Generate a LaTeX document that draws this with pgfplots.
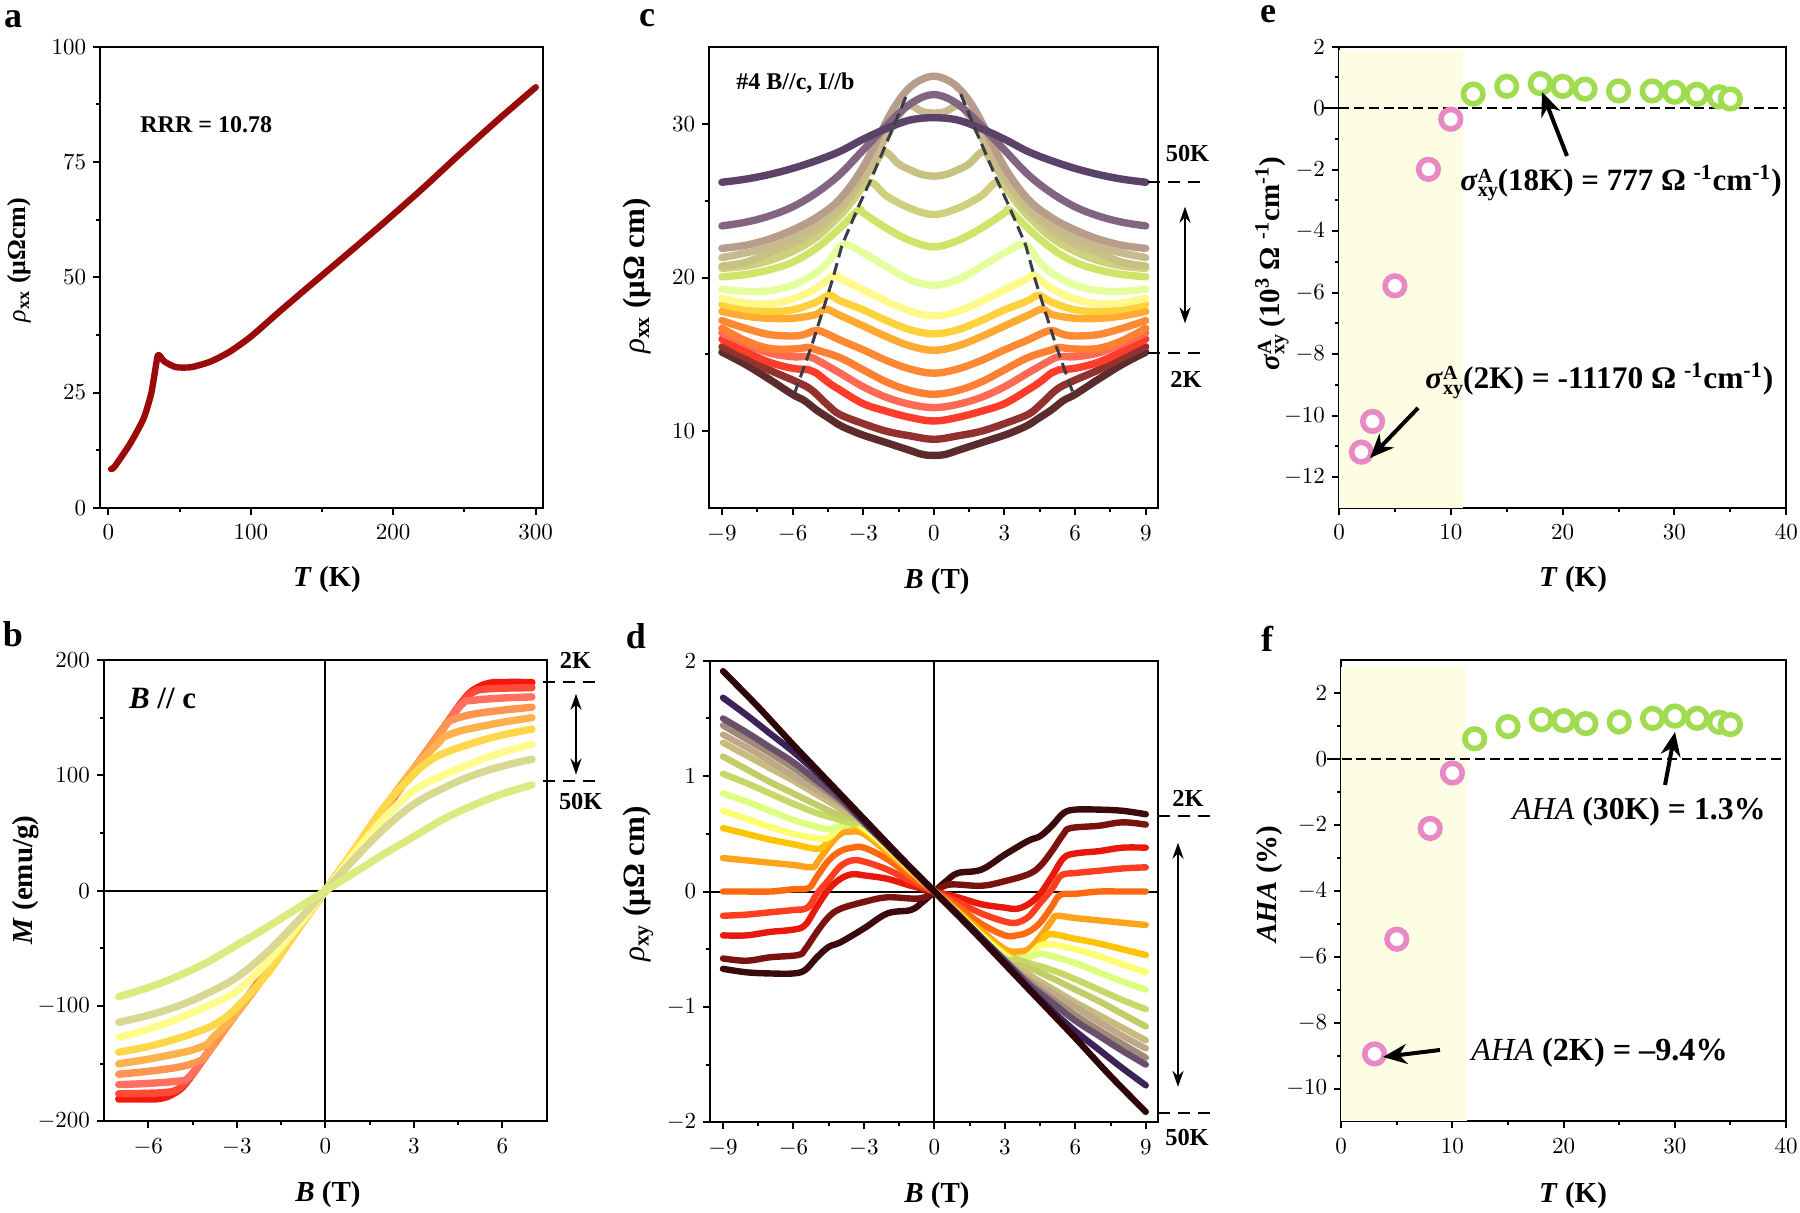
\RequirePackage{fix-cm}
\documentclass[border=0pt]{standalone}
\usepackage[no-math]{fontspec}
\setmainfont{Liberation Serif}
\usepackage{pgfplots}
\pgfplotsset{compat=1.18}
\usetikzlibrary{arrows.meta}

% panel b
\definecolor{bA}{HTML}{F5160C}\definecolor{bB}{HTML}{FF4A35}\definecolor{bC}{HTML}{FF7060}
\definecolor{bD}{HTML}{FF9550}\definecolor{bE}{HTML}{FFB14D}\definecolor{bF}{HTML}{FFD84A}
\definecolor{bG}{HTML}{FFFB8C}\definecolor{bH}{HTML}{D9D892}\definecolor{bI}{HTML}{DCEA80}
% panel c
\definecolor{cA}{HTML}{5C2B2C}\definecolor{cB}{HTML}{93312F}\definecolor{cC}{HTML}{FF3B2A}
\definecolor{cD}{HTML}{FF6A55}\definecolor{cE}{HTML}{FF7F33}\definecolor{cF}{HTML}{FF8A33}
\definecolor{cG}{HTML}{FFAA33}\definecolor{cH}{HTML}{FFD23C}\definecolor{cI}{HTML}{FFF88A}
\definecolor{cJ}{HTML}{E6FF9E}\definecolor{cK}{HTML}{CFE56A}\definecolor{cL}{HTML}{CFCF7E}
\definecolor{cM}{HTML}{C8C184}\definecolor{cN}{HTML}{C9B98E}\definecolor{cO}{HTML}{B79D8A}
\definecolor{cP}{HTML}{826580}\definecolor{cQ}{HTML}{5C4168}
% panel d
\definecolor{dA}{HTML}{3A0A0C}\definecolor{dB}{HTML}{7A1210}\definecolor{dC}{HTML}{E8190C}
\definecolor{dD}{HTML}{FF3D20}\definecolor{dE}{HTML}{FF6A10}\definecolor{dF}{HTML}{FFA31A}
\definecolor{dG}{HTML}{FFC400}\definecolor{dH}{HTML}{FBFF70}\definecolor{dI}{HTML}{DCFF80}
\definecolor{dJ}{HTML}{C6D865}\definecolor{dK}{HTML}{C4CC6A}\definecolor{dL}{HTML}{C9BB7C}
\definecolor{dM}{HTML}{BFA88A}\definecolor{dN}{HTML}{A08A78}\definecolor{dO}{HTML}{6A4F6A}
\definecolor{dP}{HTML}{3B2358}\definecolor{dQ}{HTML}{2E0508}
\definecolor{ringP}{HTML}{E888C4}\definecolor{ringG}{HTML}{A0DC50}\definecolor{shade}{HTML}{FDFDE4}
\definecolor{guide}{HTML}{3A3D45}\definecolor{rho}{HTML}{9A0A08}

\pgfplotsset{
  panel/.style={scale only axis, anchor=south west, clip=false,
    axis line style={line width=1pt}, tick style={black, line width=1pt},
    tick align=outside, tick pos=left, major tick length=3.5pt, minor tick length=2pt,
    minor tick num=1, scaled ticks=false,
    tick label style={font=\fontsize{11.5}{13}\selectfont},
    xticklabel style={yshift=-1.5pt}},
  curve/.style={no markers, line width=3.7pt, line cap=round, line join=round, smooth, tension=0.6},
  thin curve/.style={curve, line width=3.2pt},
  ring/.style={only marks, mark=*, mark size=4.9pt, mark options={fill=white, draw=#1, line width=2.8pt}},
  zero/.style={black, line width=1pt, forget plot},
}
\newcommand\bfs[1]{\fontsize{#1}{#1}\selectfont\bfseries}
\newcommand\sxy{\textit{σ}\rlap{\raisebox{.6ex}{\fontsize{10}{10}\selectfont A}}\raisebox{-.4ex}{\fontsize{10}{10}\selectfont xy}}

\begin{document}
\begin{tikzpicture}
\path[use as bounding box] (0,0) rectangle (900pt,606.5pt);

% a
\begin{axis}[panel, at={(50.15pt,352.6pt)}, width=221.55pt, height=230.55pt,
  xmin=-5.6, xmax=305.4, ymin=0, ymax=100, xtick={0,100,200,300}, ytick={0,25,50,75,100}]
\addplot[curve, color=rho, line width=3.2pt, tension=0.4] coordinates {
 (2,8.4)(4.6,9)(15.3,13.9)(24.7,19.3)(30,24.6)(32.8,29.6)(34.6,32.9)(36,33)(39.5,31.7)(47.5,30.5)
 (58.3,30.5)(71.7,31.7)(85,33.8)(100,37.1)(120,42.5)(138.9,47.5)(165.7,54.5)(192.6,61.6)(219.4,68.9)
 (246,76.5)(273,84)(300,91.2)};
\end{axis}

% b
\begin{axis}[panel, at={(52pt,45.75pt)}, width=221.35pt, height=230.75pt,
  xmin=-7.5, xmax=7.5, ymin=-200, ymax=200, xtick={-6,-3,0,3,6}, ytick={-200,-100,0,100,200}]
\addplot[zero] coordinates {(-7.5,0)(7.5,0)};
\addplot[zero] coordinates {(0,-200)(0,200)};
\addplot[curve,color=bA] coordinates {(-7,-180.5)(-6,-180.5)(-5.6,-180)(-5.2,-176.5)(-4.77,-168)(-4,-141)(-3,-105)(-2,-70)(-1,-35)(0,0)(1,35)(2,70)(3,105)(4,141)(4.77,168)(5.2,176.5)(5.6,180)(6,180.5)(7,180.5)};
\addplot[curve,color=bB] coordinates {(-7,-176)(-5.5,-175)(-5,-172)(-4.6,-162)(-4,-141)(-3,-105)(-2,-70)(-1,-35)(0,0)(1,35)(2,70)(3,105)(4,141)(4.6,162)(5,172)(5.5,175)(7,176)};
\addplot[curve,color=bC] coordinates {(-7,-168)(-6,-167)(-5,-165)(-4.64,-162)(-4,-141)(-3,-105)(-2,-70)(-1,-35)(0,0)(1,35)(2,70)(3,105)(4,141)(4.64,162)(5,165)(6,167)(7,168)};
\addplot[curve,color=bD] coordinates {(-7,-159)(-6,-156.5)(-5,-153)(-4.3,-148)(-4,-141)(-3,-106)(-2,-71)(-1,-35.5)(0,0)(1,35.5)(2,71)(3,106)(4,141)(4.3,148)(5,153)(6,156.5)(7,159)};
\addplot[curve,color=bE] coordinates {(-7,-150)(-6,-146)(-5,-141)(-4.5,-138)(-4,-133)(-3.83,-128)(-3,-106)(-2,-72)(-1,-36)(0,0)(1,36)(2,72)(3,106)(3.83,128)(4,133)(4.5,138)(5,141)(6,146)(7,150)};
\addplot[curve,color=bF] coordinates {(-7,-140)(-6,-135)(-5,-128)(-4,-119)(-3.5,-112)(-3.03,-101.7)(-2,-73)(-1,-36.5)(0,0)(1,36.5)(2,73)(3.03,101.7)(3.5,112)(4,119)(5,128)(6,135)(7,140)};
\addplot[curve,color=bG] coordinates {(-7,-127)(-6,-120)(-5,-111)(-4,-100)(-3,-87)(-2,-63)(-1,-33)(0,0)(1,33)(2,63)(3,87)(4,100)(5,111)(6,120)(7,127)};
\addplot[curve,color=bH] coordinates {(-7,-114)(-6,-108)(-5,-100)(-4,-89)(-3,-75)(-2,-54)(-1,-28)(0,0)(1,28)(2,54)(3,75)(4,89)(5,100)(6,108)(7,114)};
\addplot[curve,color=bI] coordinates {(-7,-91.7)(-6,-84)(-5,-74)(-4,-62)(-3,-47)(-2,-32)(-1,-16)(0,0)(1,16)(2,32)(3,47)(4,62)(5,74)(6,84)(7,91.7)};
\end{axis}

% c
\begin{axis}[panel, at={(354.6pt,352.4pt)}, width=224.4pt, height=230.6pt,
  xmin=-9.54, xmax=9.52, ymin=5, ymax=35, xtick={-9,-6,-3,0,3,6,9}, ytick={10,20,30}]
\addplot[curve,color=cA] coordinates {(-9,15.15)(-8,14.35)(-7,13.4)(-6,12.4)(-5.5,12)(-5,11.4)(-4.5,10.9)(-4,10.4)(-3.5,10.05)(-3,9.75)(-2,9.25)(-1,8.75)(-.5,8.5)(0,8.43)(.5,8.5)(1,8.75)(2,9.25)(3,9.75)(3.5,10.05)(4,10.4)(4.5,10.9)(5,11.4)(5.5,12)(6,12.4)(7,13.4)(8,14.35)(9,15.15)};
\addplot[curve,color=cB] coordinates {(-9,15.5)(-8,14.8)(-7,14)(-5.8,13.2)(-5.2,12.7)(-4.5,11.7)(-4,11.1)(-3,10.5)(-2,10)(-1,9.7)(0,9.48)(1,9.7)(2,10)(3,10.5)(4,11.1)(4.5,11.7)(5.2,12.7)(5.8,13.2)(7,14)(8,14.8)(9,15.5)};
\addplot[curve,color=cC] coordinates {(-9,16)(-8,15.2)(-7,14.5)(-6,14.1)(-5.3,14)(-5,13.8)(-4.5,13.2)(-4,12.7)(-3,11.8)(-2,11.3)(-1,10.9)(0,10.67)(1,10.9)(2,11.3)(3,11.8)(4,12.7)(4.5,13.2)(5,13.8)(5.3,14)(6,14.1)(7,14.5)(8,15.2)(9,16)};
\addplot[curve,color=cD] coordinates {(-9,16.4)(-8,15.7)(-7,15.1)(-6,14.85)(-5.3,14.85)(-4.8,14.5)(-4,13.8)(-3,12.9)(-2,12.2)(-1,11.75)(0,11.54)(1,11.75)(2,12.2)(3,12.9)(4,13.8)(4.8,14.5)(5.3,14.85)(6,14.85)(7,15.1)(8,15.7)(9,16.4)};
\addplot[curve,color=cE] coordinates {(-9,16.7)(-8,15.9)(-7,15.4)(-6,15.35)(-5.3,15.45)(-5,15.3)(-4,14.8)(-3,14)(-2,13.2)(-1,12.65)(0,12.41)(1,12.65)(2,13.2)(3,14)(4,14.8)(5,15.3)(5.3,15.45)(6,15.35)(7,15.4)(8,15.9)(9,16.7)};
\addplot[curve,color=cF] coordinates {(-9,17.2)(-8,16.7)(-7,16.3)(-6,16.2)(-5.5,16.3)(-5.05,16.55)(-4.7,16.45)(-4,15.95)(-3,15.3)(-2,14.6)(-1,14.05)(0,13.78)(1,14.05)(2,14.6)(3,15.3)(4,15.95)(4.7,16.45)(5.05,16.55)(5.5,16.3)(6,16.2)(7,16.3)(8,16.7)(9,17.2)};
\addplot[curve,color=cG] coordinates {(-9,17.8)(-8,17.5)(-7,17.35)(-6,17.35)(-5,17.6)(-4.6,17.95)(-4,17.55)(-3,16.85)(-2,16.15)(-1,15.55)(0,15.27)(1,15.55)(2,16.15)(3,16.85)(4,17.55)(4.6,17.95)(5,17.6)(6,17.35)(7,17.35)(8,17.5)(9,17.8)};
\addplot[curve,color=cH] coordinates {(-9,18.25)(-8,17.95)(-7,17.8)(-6,17.9)(-5,18.4)(-4.45,18.85)(-4,18.5)(-3,17.9)(-2,17.2)(-1,16.6)(0,16.34)(1,16.6)(2,17.2)(3,17.9)(4,18.5)(4.45,18.85)(5,18.4)(6,17.9)(7,17.8)(8,17.95)(9,18.25)};
\addplot[curve,color=cI] coordinates {(-9,18.65)(-8,18.35)(-7,18.3)(-6,18.6)(-5,19.3)(-4.25,20.15)(-4,19.95)(-3,19.2)(-2,18.45)(-1,17.8)(0,17.51)(1,17.8)(2,18.45)(3,19.2)(4,19.95)(4.25,20.15)(5,19.3)(6,18.6)(7,18.3)(8,18.35)(9,18.65)};
\addplot[curve,color=cJ] coordinates {(-9,19.25)(-8,19.1)(-7,19.15)(-6,19.5)(-5,20.3)(-4.5,21)(-3.85,22.15)(-3,21.6)(-2,20.7)(-1,19.85)(0,19.5)(1,19.85)(2,20.7)(3,21.6)(3.85,22.15)(4.5,21)(5,20.3)(6,19.5)(7,19.15)(8,19.1)(9,19.25)};
\addplot[curve,color=cK] coordinates {(-9,20.05)(-8,20.2)(-7,20.5)(-6,21)(-5,21.9)(-4,23.2)(-3.2,24.4)(-3,24.2)(-2,23.2)(-1,22.4)(0,22)(1,22.4)(2,23.2)(3,24.2)(3.2,24.4)(4,23.2)(5,21.9)(6,21)(7,20.5)(8,20.2)(9,20.05)};
\addplot[curve,color=cL] coordinates {(-9,20.6)(-8,20.75)(-7,21.1)(-6,21.7)(-5,22.6)(-4,24)(-3.5,24.9)(-2.75,26.2)(-2,25.3)(-1,24.5)(0,24.1)(1,24.5)(2,25.3)(2.75,26.2)(3.5,24.9)(4,24)(5,22.6)(6,21.7)(7,21.1)(8,20.75)(9,20.6)};
\addplot[curve,color=cM] coordinates {(-9,20.75)(-8,21)(-7,21.6)(-6,22.2)(-5,23.1)(-4,24.4)(-3,26.4)(-2.5,27.4)(-2.1,28.2)(-1.5,27.4)(-1,27)(-.5,26.7)(0,26.6)(.5,26.7)(1,27)(1.5,27.4)(2.1,28.2)(2.5,27.4)(3,26.4)(4,24.4)(5,23.1)(6,22.2)(7,21.6)(8,21)(9,20.75)};
\addplot[curve,color=cN] coordinates {(-9,21.3)(-8,21.6)(-7,22)(-6,22.6)(-5,23.5)(-4,24.8)(-3,26.7)(-2,29.2)(-1.5,30.5)(-1.05,31.2)(-.5,30.8)(0,30.7)(.5,30.8)(1.05,31.2)(1.5,30.5)(2,29.2)(3,26.7)(4,24.8)(5,23.5)(6,22.6)(7,22)(8,21.6)(9,21.3)};
\addplot[curve,color=cO] coordinates {(-9,21.9)(-8,22.1)(-7,22.5)(-6,23.1)(-5,23.9)(-4,25.1)(-3,27.2)(-2,30.2)(-1.5,31.5)(-1,32.4)(-.5,32.9)(0,33.1)(.5,32.9)(1,32.4)(1.5,31.5)(2,30.2)(3,27.2)(4,25.1)(5,23.9)(6,23.1)(7,22.5)(8,22.1)(9,21.9)};
\addplot[curve,color=cP] coordinates {(-9,23.36)(-8,23.6)(-7,24)(-6,24.6)(-5,25.5)(-4,26.7)(-3,28.3)(-2,29.9)(-1,31.3)(0,31.9)(1,31.3)(2,29.9)(3,28.3)(4,26.7)(5,25.5)(6,24.6)(7,24)(8,23.6)(9,23.36)};
\addplot[curve,color=cQ] coordinates {(-9,26.2)(-8,26.4)(-7,26.7)(-6,27.1)(-5,27.6)(-4,28.2)(-3,29)(-2,29.7)(-1,30.25)(0,30.4)(1,30.25)(2,29.7)(3,29)(4,28.2)(5,27.6)(6,27.1)(7,26.7)(8,26.4)(9,26.2)};
\addplot[guide, line width=1.5pt, dash pattern=on 6pt off 3pt] coordinates {(-5.93,12.41)(-5.52,14.15)(-5.2,15.52)(-4.71,17.88)(-4.3,19.88)(-3.9,22.11)(-3.17,24.73)(-2.68,26.35)(-1.71,29.83)(-1.14,31.94)};
\addplot[guide, line width=1.5pt, dash pattern=on 6pt off 3pt] coordinates {(1.14,31.94)(1.71,29.83)(2.68,26.35)(3.17,24.73)(3.9,22.11)(4.3,19.88)(4.71,17.88)(5.2,15.52)(5.52,14.15)(5.93,12.41)};
\end{axis}

% d
\begin{axis}[panel, at={(355.15pt,45.35pt)}, width=223.85pt, height=230.75pt,
  xmin=-9.54, xmax=9.52, ymin=-2, ymax=2, xtick={-9,-6,-3,0,3,6,9}, ytick={-2,-1,0,1,2}]
\addplot[zero] coordinates {(-9.54,0)(9.52,0)};
\addplot[zero] coordinates {(0,-2)(0,2)};
\addplot[thin curve,color=dA] coordinates {(-9,-.67)(-8,-.7)(-7,-.71)(-6,-.71)(-5.5,-.68)(-5,-.57)(-4.5,-.48)(-4,-.44)(-3,-.32)(-2,-.19)(-1,-.16)(-.5,-.09)(0,0)(.5,.09)(1,.16)(2,.19)(3,.32)(4,.44)(4.5,.48)(5,.57)(5.5,.68)(6,.71)(7,.71)(8,.7)(9,.67)};
\addplot[thin curve,color=dB] coordinates {(-9,-.58)(-8,-.6)(-7,-.57)(-5.8,-.55)(-5.5,-.5)(-5,-.35)(-4.5,-.22)(-4,-.15)(-3,-.09)(-2,-.05)(-.65,-.06)(0,0)(.65,.06)(2,.05)(3,.09)(4,.15)(4.5,.22)(5,.35)(5.5,.5)(5.8,.55)(7,.57)(8,.6)(9,.58)};
\addplot[thin curve,color=dC] coordinates {(-9,-.38)(-8,-.38)(-7,-.35)(-6,-.33)(-5.5,-.29)(-5,-.13)(-4.5,.02)(-4,.11)(-3.5,.15)(-3,.14)(-2,.11)(-1,.05)(0,0)(1,-.05)(2,-.11)(3,-.14)(3.5,-.15)(4,-.11)(4.5,-.02)(5,.13)(5.5,.29)(6,.33)(7,.35)(8,.38)(9,.38)};
\addplot[thin curve,color=dD] coordinates {(-9,-.21)(-8,-.2)(-7,-.18)(-6,-.16)(-5.4,-.14)(-5,-.02)(-4.5,.1)(-4,.22)(-3.5,.27)(-3,.26)(-2,.19)(-1,.09)(0,0)(1,-.09)(2,-.19)(3,-.26)(3.5,-.27)(4,-.22)(4.5,-.1)(5,.02)(5.4,.14)(6,.16)(7,.18)(8,.2)(9,.21)};
\addplot[thin curve,color=dE] coordinates {(-9,0)(-8,0)(-7,0)(-6,.02)(-5.35,.03)(-5,.13)(-4.5,.27)(-4,.35)(-3.5,.38)(-3,.38)(-2,.28)(-1,.13)(0,0)(1,-.13)(2,-.28)(3,-.38)(3.5,-.38)(4,-.35)(4.5,-.27)(5,-.13)(5.35,-.03)(6,-.02)(7,0)(8,0)(9,0)};
\addplot[thin curve,color=dF] coordinates {(-9,.29)(-8,.27)(-7,.25)(-6,.23)(-5.2,.21)(-5,.25)(-4.5,.39)(-4,.5)(-3.5,.52)(-3,.5)(-2,.34)(-1,.17)(0,0)(1,-.17)(2,-.34)(3,-.5)(3.5,-.52)(4,-.5)(4.5,-.39)(5,-.25)(5.2,-.21)(6,-.23)(7,-.25)(8,-.27)(9,-.29)};
\addplot[thin curve,color=dG] coordinates {(-9,.55)(-8,.5)(-7,.45)(-6,.41)(-4.9,.37)(-4.5,.45)(-4,.56)(-3.5,.58)(-3,.53)(-2,.36)(-1,.18)(0,0)(1,-.18)(2,-.36)(3,-.53)(3.5,-.58)(4,-.56)(4.5,-.45)(4.9,-.37)(6,-.41)(7,-.45)(8,-.5)(9,-.55)};
\addplot[thin curve,color=dH] coordinates {(-9,.7)(-8,.63)(-7,.56)(-6,.5)(-5,.46)(-4.5,.47)(-4,.56)(-3.5,.6)(-3,.55)(-2,.38)(-1,.19)(0,0)(1,-.19)(2,-.38)(3,-.55)(3.5,-.6)(4,-.56)(4.5,-.47)(5,-.46)(6,-.5)(7,-.56)(8,-.63)(9,-.7)};
\addplot[thin curve,color=dI] coordinates {(-9,.85)(-8,.78)(-7,.7)(-6,.62)(-5,.56)(-4.5,.54)(-4,.57)(-3.5,.59)(-3,.57)(-2,.4)(-1,.2)(0,0)(1,-.2)(2,-.4)(3,-.57)(3.5,-.59)(4,-.57)(4.5,-.54)(5,-.56)(6,-.62)(7,-.7)(8,-.78)(9,-.85)};
\addplot[thin curve,color=dJ] coordinates {(-9,1.02)(-8,.94)(-7,.85)(-6,.76)(-5,.68)(-4,.62)(-3.5,.59)(-3,.58)(-2,.4)(-1,.2)(0,0)(1,-.2)(2,-.4)(3,-.58)(3.5,-.59)(4,-.62)(5,-.68)(6,-.76)(7,-.85)(8,-.94)(9,-1.02)};
\addplot[thin curve,color=dK] coordinates {(-9,1.17)(-8,1.06)(-7,.95)(-6,.85)(-5,.75)(-4,.66)(-3,.6)(-1.5,.3)(0,0)(1.5,-.3)(3,-.6)(4,-.66)(5,-.75)(6,-.85)(7,-.95)(8,-1.06)(9,-1.17)};
\addplot[thin curve,color=dL] coordinates {(-9,1.29)(-8,1.18)(-7,1.07)(-6,.96)(-5,.84)(-4,.72)(-3,.6)(-1.5,.3)(0,0)(1.5,-.3)(3,-.6)(4,-.72)(5,-.84)(6,-.96)(7,-1.07)(8,-1.18)(9,-1.29)};
\addplot[thin curve,color=dM] coordinates {(-9,1.36)(-8,1.25)(-7,1.13)(-6,1)(-5,.88)(-4,.76)(-3,.6)(-1.5,.3)(0,0)(1.5,-.3)(3,-.6)(4,-.76)(5,-.88)(6,-1)(7,-1.13)(8,-1.25)(9,-1.36)};
\addplot[thin curve,color=dN] coordinates {(-9,1.44)(-8,1.32)(-7,1.2)(-6,1.07)(-5,.93)(-4,.78)(-3,.6)(-1.5,.3)(0,0)(1.5,-.3)(3,-.6)(4,-.78)(5,-.93)(6,-1.07)(7,-1.2)(8,-1.32)(9,-1.44)};
\addplot[thin curve,color=dO] coordinates {(-9,1.5)(-8,1.38)(-7,1.25)(-6,1.12)(-5,.96)(-4,.8)(-3,.6)(-1.5,.3)(0,0)(1.5,-.3)(3,-.6)(4,-.8)(5,-.96)(6,-1.12)(7,-1.25)(8,-1.38)(9,-1.5)};
\addplot[thin curve,color=dP] coordinates {(-9,1.68)(-8,1.53)(-7,1.37)(-6,1.21)(-5,1.03)(-4,.83)(-3,.61)(-1.5,.3)(0,0)(1.5,-.3)(3,-.61)(4,-.83)(5,-1.03)(6,-1.21)(7,-1.37)(8,-1.53)(9,-1.68)};
\addplot[thin curve,color=dQ] coordinates {(-9,1.91)(-7.5,1.6)(-6,1.27)(-4.5,.95)(-3,.63)(-1.5,.31)(0,0)(1.5,-.31)(3,-.63)(4.5,-.95)(6,-1.27)(7.5,-1.6)(9,-1.91)};
\end{axis}

% e
\begin{axis}[panel, at={(669.5pt,352.6pt)}, width=223.65pt, height=230.55pt,
  xmin=0, xmax=40, ymin=-13, ymax=2, xtick={0,10,20,30,40}, ytick={-12,-10,-8,-6,-4,-2,0,2}]
\addplot[draw=none, fill=shade] coordinates {(0,-13)(11.1,-13)(11.1,1.9)(0,1.9)} -- cycle;
\addplot[black, line width=1.2pt, dash pattern=on 5pt off 2.4pt] coordinates {(-1.3,0)(40,0)};
\addplot[ring=ringP] coordinates {(2,-11.19)(3,-10.19)(5,-5.78)(8,-1.99)(10,-.36)};
\addplot[ring=ringG] coordinates {(12,.46)(15,.71)(18,.8)(20,.71)(22,.62)(25,.56)(28,.56)(30,.52)(32,.45)(34,.37)(35,.3)};
\end{axis}

% f
\begin{axis}[panel, at={(670.6pt,45.75pt)}, width=222.4pt, height=230.75pt,
  xmin=0, xmax=40, ymin=-11, ymax=3, xtick={0,10,20,30,40}, ytick={-10,-8,-6,-4,-2,0,2}]
\addplot[draw=none, fill=shade] coordinates {(0,-11)(11.3,-11)(11.3,2.8)(0,2.8)} -- cycle;
\addplot[black, line width=1.2pt, dash pattern=on 5pt off 2.4pt] coordinates {(-1.3,0)(40,0)};
\addplot[ring=ringP] coordinates {(3,-8.95)(5,-5.47)(8,-2.11)(10,-.43)};
\addplot[ring=ringG] coordinates {(12,.61)(15,.98)(18,1.19)(20,1.16)(22,1.07)(25,1.12)(28,1.23)(30,1.3)(32,1.23)(34,1.11)(35,1.04)};
\end{axis}

% text and arrows, in pixels of the reference
\begin{scope}[x=0.5pt, y=-0.5pt, yshift=606.5pt, every node/.style={inner sep=0pt}]
\foreach \l/\px/\py in {a/13/19, b/13/634, c/647/18, d/636/636, e/1268/14, f/1267/639}
  \node[font=\bfs{18}] at (\px,\py) {\l};
% axis titles
\node[font=\bfs{14.5}] at (327,580) {\textit{T} (K)};
\node[font=\bfs{14.5}] at (328,1195) {\textit{B} (T)};
\node[font=\bfs{14.5}] at (937,582) {\textit{B} (T)};
\node[font=\bfs{14.5}] at (937,1196) {\textit{B} (T)};
\node[font=\bfs{14.5}] at (1573,580) {\textit{T} (K)};
\node[font=\bfs{14.5}] at (1573,1196) {\textit{T} (K)};
\node[font=\bfs{13}, rotate=90] at (19,260) {\textit{\mdseries ρ}\textsubscript{xx} (μΩcm)};
\node[font=\bfs{14.5}, rotate=90] at (26,880) {\textit{M} (emu/g)};
\node[font=\bfs{15.5}, rotate=90] at (637,276) {\textit{\mdseries ρ}\textsubscript{xx} (μΩ cm)};
\node[font=\bfs{15.5}, rotate=90] at (638,884) {\textit{\mdseries ρ}\textsubscript{xy} (μΩ cm)};
\node[font=\bfs{14.5}, rotate=90] at (1272,264) {\sxy{} (10\textsuperscript{3} Ω \textsuperscript{-1}cm\textsuperscript{-1})};
\node[font=\bfs{14.5}, rotate=90] at (1270,884) {\textit{AHA} (\%)};
% notes inside the panels
\node[font=\bfs{12}, anchor=west] at (140,124.5) {RRR = 10.78};
\node[font=\bfs{15.5}, anchor=west] at (128.6,698.5) {\textit{B} // c};
\node[font=\bfs{12}, anchor=west] at (736,83.5) {\#4 B//c, I//b};
\node[font=\bfs{15.5}, anchor=base west] at (1460,191) {\sxy(18K) = 777 Ω \textsuperscript{-1}cm\textsuperscript{-1})};
\node[font=\bfs{15.7}, anchor=base west] at (1425,388.5) {\sxy(2K) = -11170 Ω \textsuperscript{-1}cm\textsuperscript{-1})};
\node[font=\bfs{15.9}, anchor=base west] at (1512,819.5) {\textit{\mdseries AHA} (30K) = 1.3\%};
\node[font=\bfs{16.1}, anchor=base west] at (1471,1061) {\textit{\mdseries AHA} (2K) = –9.4\%};
% temperature range marks
\foreach \t/\px/\py in {50K/1187.5/154, 2K/1186/379, 2K/575.5/660, 50K/580.7/801.5, 2K/1188/798.5, 50K/1187/1138}
  \node[font=\bfs{12.2}] at (\px,\py) {\t};
\foreach \xa/\xb/\ya in {1148/1204/182, 1148/1204/353, 542.7/599/682.3, 542.7/599/780.8, 1157.7/1210.5/815.8, 1157.7/1210.5/1112.7}
  \draw[black, line width=1pt, dash pattern=on 6pt off 4pt] (\xa,\ya) -- (\xb,\ya);
\foreach \xa/\ya/\yb in {1185/206.7/323.4, 576/693.8/774.6, 1178/842.7/1086.9}
  \draw[{Stealth[length=8pt,width=5.5pt]}-{Stealth[length=8pt,width=5.5pt]}, black, line width=1.2pt] (\xa,\ya) -- (\xa,\yb);
\foreach \xa/\ya/\xb/\yb in {1567/156/1542/92, 1418/408/1370/458, 1665/785/1675/732, 1440/1050/1383/1057}
  \draw[-{Stealth[length=12pt,width=10pt]}, black, line width=2pt] (\xa,\ya) -- (\xb,\yb);
\end{scope}
\end{tikzpicture}
\end{document}
